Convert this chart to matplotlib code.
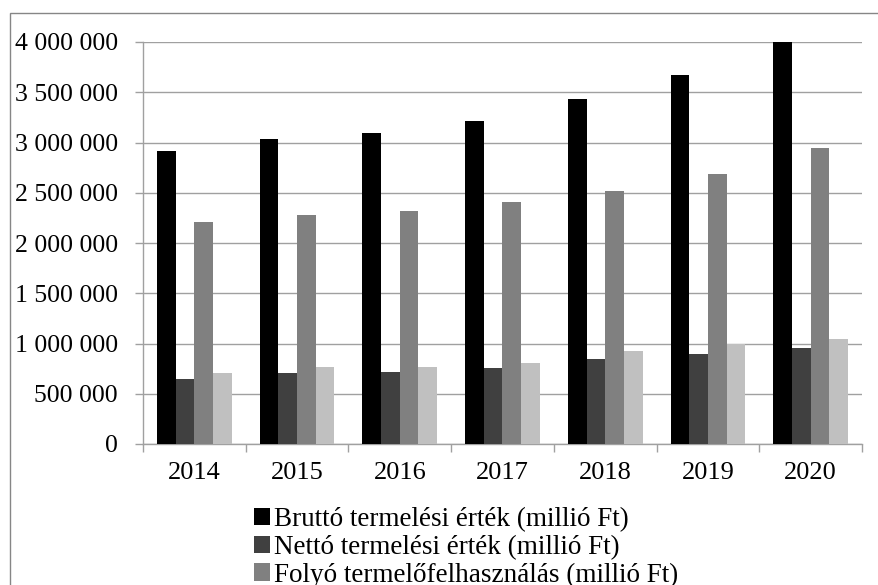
import matplotlib.pyplot as plt
import matplotlib.patches as mpatches
from matplotlib.ticker import FuncFormatter, MultipleLocator, FixedLocator
import numpy as np

plt.rcParams['font.family'] = ['Liberation Serif', 'DejaVu Serif']

# adatok
years = ['2014', '2015', '2016', '2017', '2018', '2019', '2020']
brutto = [2911000, 3038000, 3091000, 3217000, 3436000, 3668000, 4001000]
netto = [650000, 704000, 717000, 754000, 844000, 896000, 959000]
folyo = [2208000, 2274000, 2314000, 2404000, 2520000, 2686000, 2941000]
hozzaadott = [704000, 770000, 770000, 807000, 923000, 993000, 1049000]

series = [
    ('Bruttó termelési érték (millió Ft)', brutto, '#000000'),
    ('Nettó termelési érték (millió Ft)', netto, '#404040'),
    ('Folyó termelőfelhasználás (millió Ft)', folyo, '#808080'),
    ('Bruttó hozzáadott érték (millió Ft)', hozzaadott, '#c0c0c0'),
]

grid_col = '#a0a0a0'
fs = 18.5

fig = plt.figure(figsize=(8.79, 5.85), dpi=100)
ax = fig.add_axes([143 / 879, 1 - 444 / 585, (862 - 143) / 879, (444 - 42) / 585])

# keret a diagram körül
fig.patches.append(mpatches.Rectangle((10 / 879, -0.1), 1.2, 1.1 - 13 / 585,
                                      transform=fig.transFigure, fill=False,
                                      edgecolor='#868686', linewidth=1.0))

x = np.arange(len(years))
w = 0.182
handles = []
for i, (label, vals, col) in enumerate(series):
    b = ax.bar(x + (i - 1.5) * w, vals, w, color=col, label=label, zorder=3)
    handles.append(b)

ax.set_xlim(-0.5, len(years) - 0.5)
ax.set_ylim(0, 4000000)
ax.yaxis.set_major_locator(MultipleLocator(500000))
ax.yaxis.set_major_formatter(FuncFormatter(lambda v, p: f'{int(v):,}'.replace(',', ' ')))
ax.grid(axis='y', color=grid_col, linewidth=1.0, zorder=0)

ax.set_xticks(x)
ax.set_xticklabels(years)
ax.xaxis.set_minor_locator(FixedLocator(np.arange(-0.5, len(years), 1.0)))
ax.tick_params(axis='x', which='major', length=0, pad=13, labelsize=19)
ax.tick_params(axis='x', which='minor', length=6, color=grid_col, width=1.0)
ax.tick_params(axis='y', length=6, color=grid_col, width=1.0, pad=12, labelsize=fs)

for side in ['top', 'right']:
    ax.spines[side].set_visible(False)
for side in ['left', 'bottom']:
    ax.spines[side].set_color(grid_col)
    ax.spines[side].set_linewidth(1.0)

# jelmagyarázat (a negyedik sor a kép alsó szélén kívül esik, mint az eredetin)
fig.legend(handles=handles, loc='upper left', bbox_to_anchor=(254 / 879, 1 - 507 / 585),
           frameon=False, fontsize=19.5, handlelength=0.6, handleheight=0.6,
           handletextpad=0.15, labelspacing=0.1, borderaxespad=0, borderpad=0)

fig.savefig('out.png', dpi=100, facecolor='white')
